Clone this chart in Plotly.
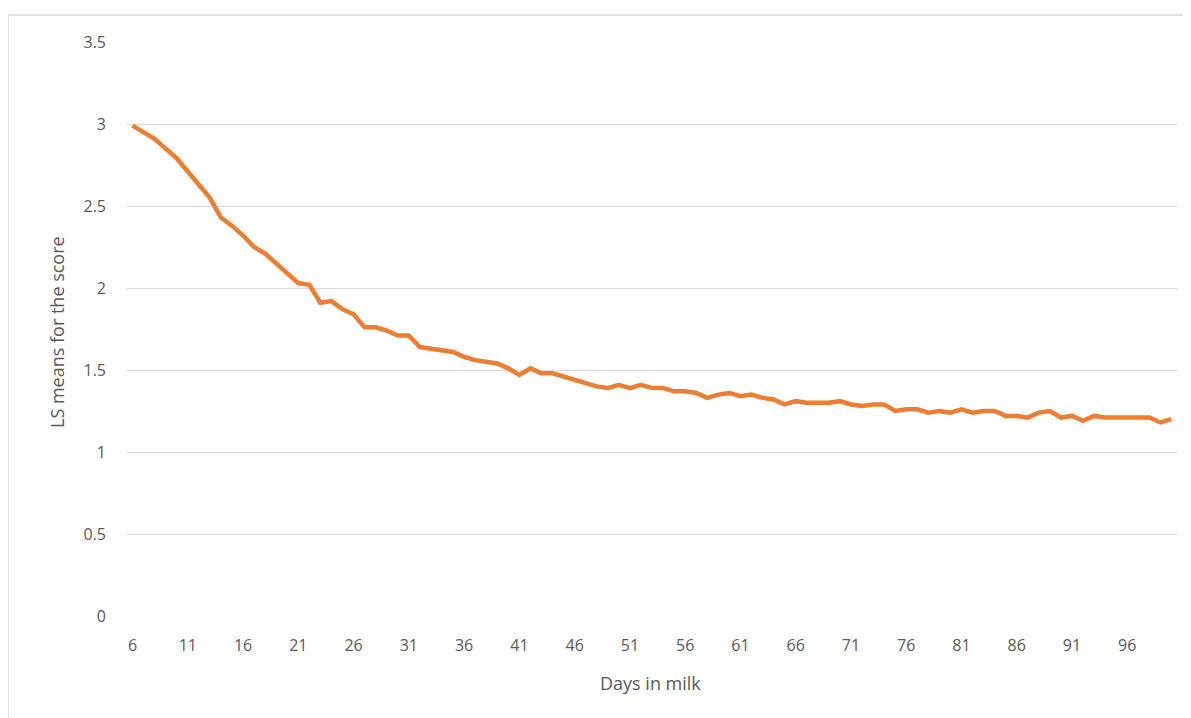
import plotly.graph_objects as go

days = list(range(6, 101))
ls_means = [
    2.99, 2.95, 2.91, 2.85, 2.79, 2.71, 2.63, 2.55, 2.43, 2.38,
    2.32, 2.25, 2.21, 2.15, 2.09, 2.03, 2.02, 1.91, 1.92, 1.87,
    1.84, 1.76, 1.76, 1.74, 1.71, 1.71, 1.64, 1.63, 1.62, 1.61,
    1.58, 1.56, 1.55, 1.54, 1.51, 1.47, 1.51, 1.48, 1.48, 1.46,
    1.44, 1.42, 1.40, 1.39, 1.41, 1.39, 1.41, 1.39, 1.39, 1.37,
    1.37, 1.36, 1.33, 1.35, 1.36, 1.34, 1.35, 1.33, 1.32, 1.29,
    1.31, 1.30, 1.30, 1.30, 1.31, 1.29, 1.28, 1.29, 1.29, 1.25,
    1.26, 1.26, 1.24, 1.25, 1.24, 1.26, 1.24, 1.25, 1.25, 1.22,
    1.22, 1.21, 1.24, 1.25, 1.21, 1.22, 1.19, 1.22, 1.21, 1.21,
    1.21, 1.21, 1.21, 1.18, 1.20,
]
x_ticks = list(range(6, 100, 5))
y_ticks = [0, 0.5, 1, 1.5, 2, 2.5, 3, 3.5]
y_tick_text = ["0", "0.5", "1", "1.5", "2", "2.5", "3", "3.5"]

FONT = "Open Sans, Lato, sans-serif"
GRAY = "#595959"

# page body has an 8px margin; plot area targeted at x 127..1177, y 42..616
fig = go.Figure()
fig.add_trace(go.Scatter(
    x=days, y=ls_means, mode="lines",
    line=dict(color="#ED7D31", width=4.5),
    showlegend=False, hoverinfo="x+y",
))

fig.update_layout(
    width=1183, height=710,
    margin=dict(l=119, r=14, t=34, b=102),
    paper_bgcolor="white", plot_bgcolor="white",
    font=dict(family=FONT, color=GRAY, size=16),
    xaxis=dict(
        range=[5.5, 100.5], tickvals=x_ticks, ticktext=[str(v) for v in x_ticks],
        showgrid=False, zeroline=False, showline=False, ticks="",
        ticklabelstandoff=18, tickfont=dict(size=16, color=GRAY),
    ),
    yaxis=dict(
        range=[0, 3.5], tickvals=y_ticks, ticktext=y_tick_text,
        showgrid=True, gridcolor="#D9D9D9", gridwidth=1,
        zeroline=False, showline=False, ticks="",
        ticklabelstandoff=20, tickfont=dict(size=16, color=GRAY),
    ),
    annotations=[
        dict(text="Days in milk", xref="paper", yref="paper",
             x=(650 - 127) / 1050, y=(616 - 683) / 574, showarrow=False,
             font=dict(size=18, color=GRAY, family=FONT),
             xanchor="center", yanchor="middle"),
        dict(text="LS means for the score", xref="paper", yref="paper",
             x=(57 - 127) / 1050, y=(616 - 332) / 574, showarrow=False,
             textangle=-90, font=dict(size=18, color=GRAY, family=FONT),
             xanchor="center", yanchor="middle"),
    ],
    shapes=[
        dict(type="rect", xref="paper", yref="paper",
             x0=(8 - 127) / 1050, x1=(1200 - 127) / 1050,
             y0=(616 - 730) / 574, y1=(616 - 15) / 574,
             line=dict(color="#D9D9D9", width=1.5), fillcolor="rgba(0,0,0,0)",
             layer="below"),
    ],
)

fig.write_html("out.html")
